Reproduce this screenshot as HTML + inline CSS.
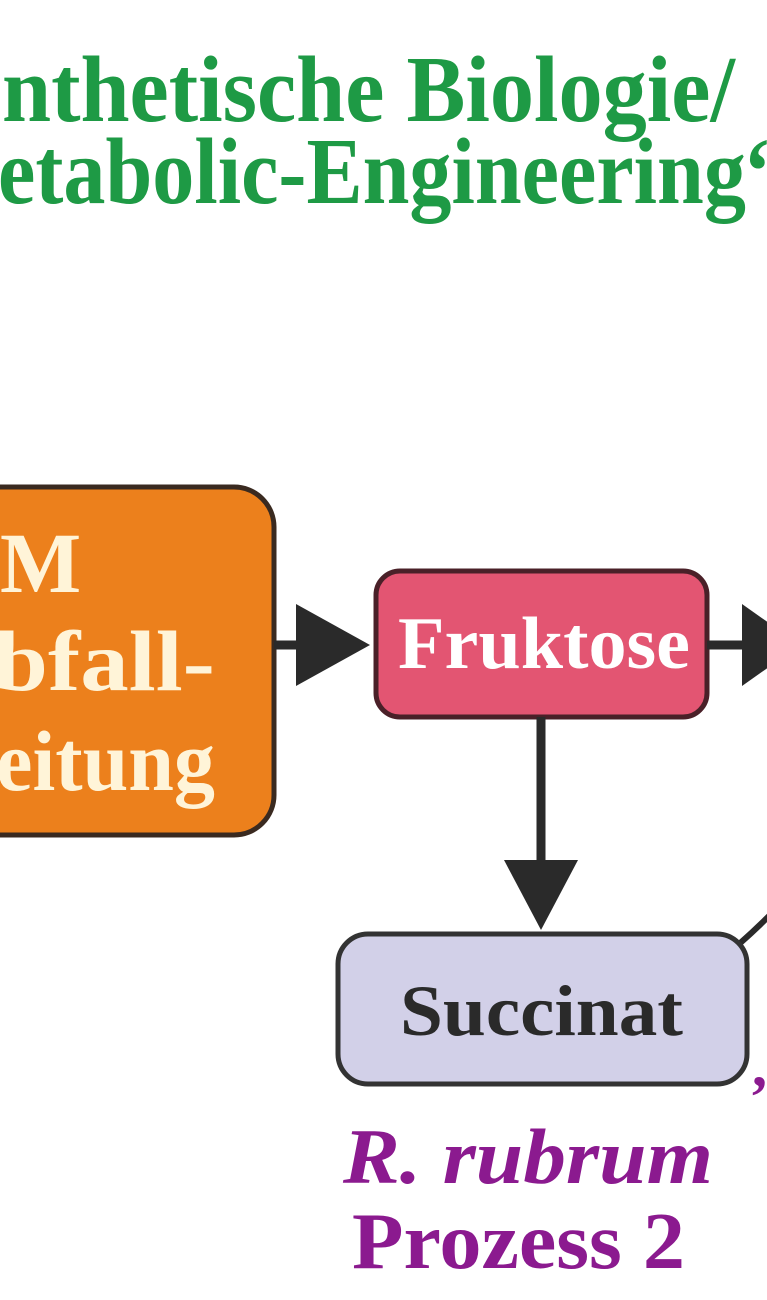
<!DOCTYPE html>
<html><head><meta charset="utf-8"><style>html,body{margin:0;padding:0;background:#fff;}svg{display:block}</style></head>
<body>
<svg width="767" height="1300" viewBox="0 0 767 1300" xmlns="http://www.w3.org/2000/svg" font-family="Liberation Serif, serif" font-weight="bold">
<text x="2" y="121" font-size="94" fill="#1e9a45" textLength="733" lengthAdjust="spacingAndGlyphs">nthetische Biologie/</text>
<text x="-2" y="203" font-size="94" fill="#1e9a45" textLength="790" lengthAdjust="spacingAndGlyphs">etabolic-Engineering“</text>

<rect x="-40" y="487" width="314" height="348" rx="40" fill="#ec801c" stroke="#3a2a20" stroke-width="5"/>
<text x="0" y="592" font-size="86" fill="#fff4d8">M</text>
<text x="-6" y="690" font-size="86" fill="#fff4d8" textLength="221" lengthAdjust="spacingAndGlyphs">bfall-</text>
<text x="-4" y="790" font-size="86" fill="#fff4d8" textLength="219" lengthAdjust="spacingAndGlyphs">eitung</text>

<line x1="274" y1="645" x2="300" y2="645" stroke="#2a2a2a" stroke-width="9"/>
<polygon points="296,604 370,645 296,686" fill="#2a2a2a"/>

<rect x="376" y="571" width="331" height="146" rx="24" fill="#e35572" stroke="#4a2028" stroke-width="5"/>
<text x="398" y="668" font-size="74" fill="#fff" textLength="292" lengthAdjust="spacingAndGlyphs">Fruktose</text>

<line x1="707" y1="645" x2="745" y2="645" stroke="#2a2a2a" stroke-width="9"/>
<polygon points="742,604 800,645 742,686" fill="#2a2a2a"/>

<line x1="541" y1="717" x2="541" y2="866" stroke="#2a2a2a" stroke-width="9"/>
<polygon points="504,860 578,860 541,930" fill="#2a2a2a"/>

<path d="M738,945 Q755,930 770,915" fill="none" stroke="#2a2a2a" stroke-width="6"/>
<rect x="338" y="934" width="409" height="150" rx="30" fill="#d2d0e8" stroke="#333" stroke-width="5"/>
<text x="400" y="1035" font-size="72" fill="#2a2a2a" textLength="283" lengthAdjust="spacingAndGlyphs">Succinat</text>
<text x="752" y="1086" font-size="60" fill="#8b1a8f">,</text>

<text x="343" y="1183" font-size="78" font-style="italic" fill="#8b1a8f" textLength="370" lengthAdjust="spacingAndGlyphs">R. rubrum</text>
<text x="352" y="1268" font-size="80" fill="#8b1a8f" textLength="333" lengthAdjust="spacingAndGlyphs">Prozess 2</text>
</svg>
</body></html>
